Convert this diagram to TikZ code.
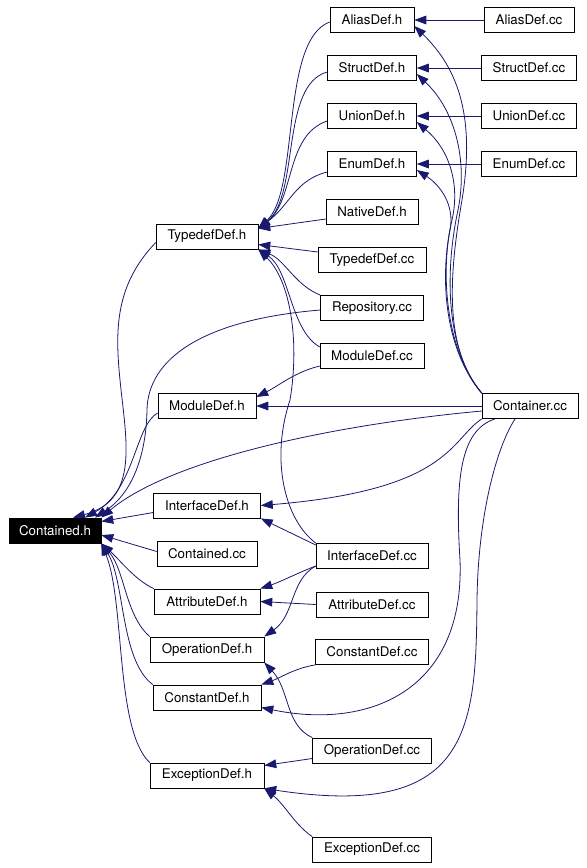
\documentclass[tikz,border=0pt]{standalone}
\usepackage{fontspec}
\setmainfont{TeX Gyre Heros}
\usepackage{tikz}
\usetikzlibrary{calc,arrows.meta,backgrounds}
\definecolor{edgeblue}{RGB}{25,25,112}
\tikzset{
  file/.style={draw, fill=white, font=\fontsize{10}{12}\selectfont,
    minimum height=19pt, inner sep=0pt},
  incl/.style={draw=edgeblue, line width=0.6pt,
    -{Triangle[length=9pt,width=6.5pt]}},
}

\begin{document}
\begin{tikzpicture}[x=0.75pt, y=-0.75pt]
  \useasboundingbox (0,0) rectangle (586,868);

  %% the file itself
  \node[file, fill=black, text=white, minimum width=69pt] (ctdh) at (55,530.5) {Contained.h};

  %% headers that include it
  \foreach \name/\lbl/\y/\w in {tdh/TypedefDef.h/236.5/76.5, mdh/ModuleDef.h/406/73.5,
      ifh/InterfaceDef.h/505.5/80.25, ctdcc/Contained.cc/553.5/75,
      ath/AttributeDef.h/601.5/79.5, oph/OperationDef.h/649.5/85.5,
      csh/ConstantDef.h/697.5/81, exh/ExceptionDef.h/775.5/85.5} {
    \node[file, minimum width=\w pt] (\name) at (207,\y) {\lbl};
  }

  %% second column
  \foreach \name/\lbl/\y/\w in {alh/AliasDef.h/20/63, sth/StructDef.h/68/66.75,
      unh/UnionDef.h/116/66.75, enh/EnumDef.h/164/66.75, nah/NativeDef.h/212/69,
      tdcc/TypedefDef.cc/260/81, repcc/Repository.cc/308/77.25,
      mdcc/ModuleDef.cc/356/78, ifcc/InterfaceDef.cc/556/84,
      atcc/AttributeDef.cc/604.5/84, cscc/ConstantDef.cc/652/84.75,
      opcc/OperationDef.cc/750.5/89.25, excc/ExceptionDef.cc/849.5/89.25} {
    \node[file, minimum width=\w pt] (\name) at (372,\y) {\lbl};
  }

  %% third column
  \foreach \name/\lbl/\y/\w in {alcc/AliasDef.cc/20/67.5, stcc/StructDef.cc/68/71.25,
      uncc/UnionDef.cc/116/71.25, encc/EnumDef.cc/164/71.25} {
    \node[file, minimum width=\w pt] (\name) at (529,\y) {\lbl};
  }
  \node[file, minimum width=72pt] (ctrcc) at (530,406) {Container.cc};

  \begin{scope}[on background layer]
    %% into Contained.h
    \draw[incl] ($(tdh.west)+(0,6)$) .. controls (115,285) and (115,330) .. (120,380)
        .. controls (126,440) and (140,500) .. ($(ctdh.north)+(18,0)$);
    \draw[incl] ($(mdh.west)+(0,7)$) .. controls (135,425) and (135,490) .. ($(ctdh.north)+(30,0)$);
    \draw[incl] ($(repcc.west)+(0,2)$) .. controls (200,320) and (148,360) .. (147,410)
        .. controls (146,460) and (130,495) .. ($(ctdh.north)+(40,0)$);
    \draw[incl] ($(ctrcc.west)+(0,5)$) .. controls (330,425) and (170,460) .. (ctdh.north east);
    \draw[incl] ($(ifh.west)+(0,7)$) -- ($(ctdh.east)+(0,-9)$);
    \draw[incl] ($(ctdcc.west)+(0,-2)$) -- ($(ctdh.east)+(0,4.5)$);
    \draw[incl] (ath.north west) .. controls (135,580) and (120,560) .. (ctdh.south east);
    \draw[incl] (oph.north west) .. controls (125,615) and (125,570) .. (ctdh.south east);
    \draw[incl] (csh.north west) .. controls (120,660) and (125,580) .. (ctdh.south east);
    \draw[incl] (exh.north west) .. controls (115,730) and (125,600) .. (ctdh.south east);

    %% into TypedefDef.h
    \draw[incl] ($(alh.west)+(0,2)$) .. controls (280,40) and (300,190) .. ($(tdh.east)+(0,-8)$);
    \draw[incl] ($(sth.west)+(0,4)$) .. controls (280,85) and (300,195) .. ($(tdh.east)+(0,-8)$);
    \draw[incl] ($(unh.west)+(0,5)$) .. controls (285,135) and (295,200) .. ($(tdh.east)+(0,-8)$);
    \draw[incl] ($(enh.west)+(0,8)$) .. controls (295,180) and (290,205) .. ($(tdh.east)+(0,-8)$);
    \draw[incl] ($(nah.west)+(0,7)$) -- ($(tdh.east)+(0,-8)$);
    \draw[incl] ($(tdcc.west)+(0,-8)$) -- ($(tdh.east)+(0,8)$);
    \draw[incl] (repcc.north west) .. controls (295,285) and (285,260) .. (tdh.south east);
    \draw[incl] ($(mdcc.west)+(0,-9)$) .. controls (290,330) and (290,270) .. (tdh.south east);
    \draw[incl] (ifcc.north west) .. controls (285,520) and (270,460) .. (290,400)
        .. controls (300,340) and (290,280) .. (tdh.south east);

    %% into ModuleDef.h
    \draw[incl] ($(mdcc.west)+(0,10)$) .. controls (295,372) and (280,385) .. ($(mdh.east)+(0,-9)$);
    \draw[incl] (ctrcc.west) -- (mdh.east);

    %% second column headers
    \foreach \h/\c in {alh/alcc, sth/stcc, unh/uncc, enh/encc} {
      \draw[incl] (\c.west) -- (\h.east);
    }
    \draw[incl] (ctrcc.north west) .. controls (445,350) and (448,280) .. (462,200)
        .. controls (475,120) and (460,70) .. ($(alh.east)+(0,6)$);
    \draw[incl] (ctrcc.north west) .. controls (445,350) and (445,270) .. (458,210)
        .. controls (468,160) and (455,110) .. ($(sth.east)+(0,6)$);
    \draw[incl] (ctrcc.north west) .. controls (445,350) and (440,270) .. (452,220)
        .. controls (460,185) and (450,150) .. ($(unh.east)+(0,6)$);
    \draw[incl] (ctrcc.north west) .. controls (445,350) and (440,280) .. (450,230)
        .. controls (455,205) and (440,185) .. ($(enh.east)+(0,6)$);

    %% Container.cc down the right side
    \draw[incl] (ctrcc.south west) .. controls (450,440) and (450,490) .. (ifh.east);
    \draw[incl] ($(ctrcc.south)+(-35,0)$) .. controls (460,430) and (455,480) .. (460,560)
        .. controls (465,690) and (370,730) .. ($(csh.east)+(0,10)$);
    \draw[incl] ($(ctrcc.south)+(-15,0)$) .. controls (495,450) and (478,520) .. (477,600)
        .. controls (476,730) and (470,820) .. (exh.south east);

    %% the rest
    \draw[incl] ($(ifcc.west)+(0,-11)$) -- (ifh.south east);
    \draw[incl] ($(ifcc.west)+(0,10)$) .. controls (300,572) and (280,582) .. (ath.north east);
    \draw[incl] (atcc.west) -- (ath.east);
    \draw[incl] ($(ifcc.west)+(0,10)$) .. controls (290,580) and (295,615) .. (oph.north east);
    \draw[incl] (opcc.north west) .. controls (285,725) and (290,690) .. (oph.south east);
    \draw[incl] (cscc.south west) .. controls (295,668) and (280,678) .. (csh.north east);
    \draw[incl] ($(opcc.west)+(0,8)$) -- ($(exh.east)+(0,-10)$);
    \draw[incl] (excc.north west) .. controls (295,825) and (285,805) .. (exh.south east);
  \end{scope}
\end{tikzpicture}
\end{document}
